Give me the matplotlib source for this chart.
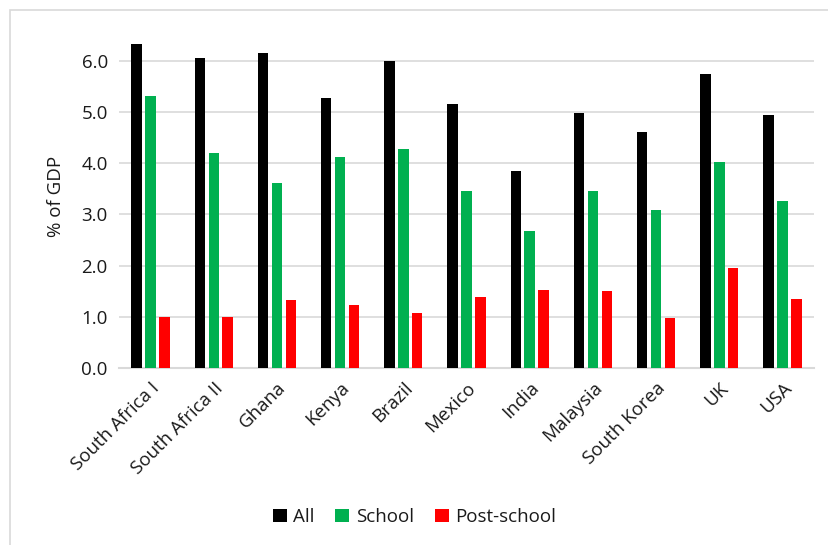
import numpy as np
import matplotlib.pyplot as plt
from matplotlib.patches import Rectangle

plt.rcParams['font.family'] = ['Open Sans', 'DejaVu Sans']

# Dados
paises = ["South Africa I", "South Africa II", "Ghana", "Kenya", "Brazil", "Mexico",
          "India", "Malaysia", "South Korea", "UK", "USA"]
total = [6.33, 6.05, 6.16, 5.27, 6.00, 5.16, 3.84, 4.98, 4.61, 5.75, 4.94]
escola = [5.32, 4.19, 3.61, 4.12, 4.28, 3.45, 2.67, 3.46, 3.08, 4.02, 3.27]
pos_escola = [1.00, 1.00, 1.33, 1.22, 1.08, 1.38, 1.53, 1.50, 0.97, 1.95, 1.34]

fig = plt.figure(figsize=(8.29, 5.45), dpi=100)
ax = fig.add_axes([0.1435, 0.325, 0.8385, 0.629])

# Moldura cinza da área do gráfico
fig.patches.append(Rectangle((10 / 829, -0.1), 1.2, 1 - 10 / 545 + 0.1,
                             transform=fig.transFigure, fill=False,
                             edgecolor="#d9d9d9", linewidth=1.2))

x = np.arange(len(paises))
largura = 0.165
passo = 0.22
ax.bar(x - passo, total, largura, color="black", label="All", zorder=3)
ax.bar(x, escola, largura, color="#00b050", label="School", zorder=3)
ax.bar(x + passo, pos_escola, largura, color="#ff0000", label="Post-school", zorder=3)

ax.set_xlim(-0.5, len(paises) - 0.5)
ax.set_ylim(0, 6.7)
ax.set_yticks(np.arange(0, 6.1, 1.0))
ax.set_yticklabels([f"{v:.1f}" for v in np.arange(0, 6.1, 1.0)], fontsize=13.5, color="#1a1a1a")
ax.yaxis.grid(True, color="#d9d9d9", linewidth=1.2, zorder=0)
ax.set_ylabel("% of GDP", fontsize=13.5, color="#1a1a1a", labelpad=12)

ax.set_xticks(x)
ax.set_xticklabels(paises, rotation=45, ha="right", rotation_mode="anchor",
                   fontsize=13.5, color="#1a1a1a")
ax.tick_params(axis="both", length=0, pad=8)

for s in ["top", "right", "left"]:
    ax.spines[s].set_visible(False)
ax.spines["bottom"].set_color("#d9d9d9")
ax.spines["bottom"].set_linewidth(1.5)

fig.legend(loc="center", bbox_to_anchor=(0.5, 1 - 517 / 545), ncol=3, frameon=False,
           fontsize=13.5, handlelength=0.75, handleheight=0.75, handletextpad=0.35,
           columnspacing=1.1, labelcolor="#1a1a1a")

fig.savefig("out.png", dpi=100)
